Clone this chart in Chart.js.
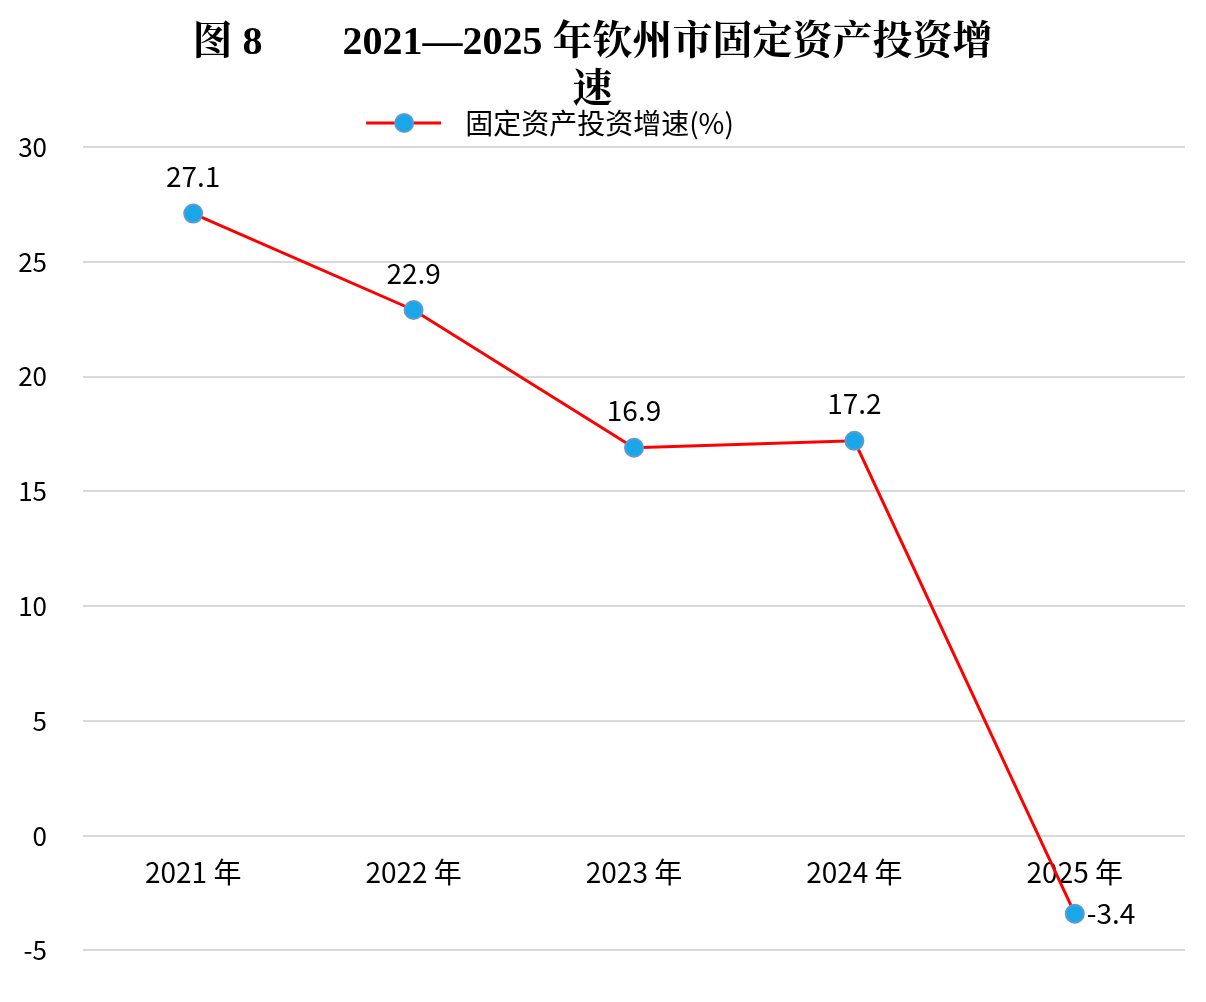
<!DOCTYPE html>
<html><head><meta charset="utf-8">
<script src="https://cdn.jsdelivr.net/npm/chart.js@4"></script>
<style>html,body{margin:0;padding:0;background:#fff}#w{width:1206px;height:1002px}</style>
</head><body><div id="w"><canvas id="c"></canvas></div>
<script>
const categories = ["2021 年","2022 年","2023 年","2024 年","2025 年"];
const growth = [27.1, 22.9, 16.9, 17.2, -3.4];
const yTicks = [30,25,20,15,10,5,0,-5];
const seriesName = "固定资产投资增速(%)";
const titleLines = ["图 8　　2021—2025 年钦州市固定资产投资增", "速"];

const labelPlugin = {
  id:'lbl',
  afterDatasetsDraw(chart){
    const ctx=chart.ctx, meta=chart.getDatasetMeta(0);
    ctx.save();
    ctx.font='28px "Noto Sans CJK SC"';
    ctx.fillStyle='#000';
    meta.data.forEach((p,i)=>{
      const v=growth[i].toFixed(1);
      if(growth[i]<0){ctx.textAlign='left';ctx.textBaseline='middle';ctx.fillText(v,p.x+12,p.y);}
      else{ctx.textAlign='center';ctx.textBaseline='middle';ctx.fillText(v,p.x,p.y-37);}
    });
    ctx.restore();
  }
};

new Chart(document.getElementById('c'),{
  type:'line',
  data:{labels:categories,datasets:[{label:seriesName,data:growth,borderColor:'#ff0000',borderWidth:3,
    pointBackgroundColor:'#1aa7e8',pointBorderColor:'#5b9bd5',pointBorderWidth:2,pointRadius:9,tension:0}]},
  options:{
    responsive:true,maintainAspectRatio:false,animation:false,
    layout:{padding:{left:0,right:21,top:20,bottom:14}},
    plugins:{
      title:{display:true,text:titleLines,color:'#000',font:{family:'"Liberation Serif","Noto Serif CJK SC","Noto Sans CJK SC"',size:40,weight:'bold'},lineHeight:1.5,padding:{top:0,bottom:-50}},
      legend:{labels:{color:'#000',font:{family:'"Noto Sans CJK SC"',size:28},usePointStyle:false,boxWidth:0,padding:43,
        generateLabels(chart){return [{text:seriesName,fillStyle:'#1aa7e8',strokeStyle:'#ff0000',lineWidth:0,hidden:false,datasetIndex:0}];}}},
      tooltip:{enabled:false}
    },
    scales:{
      x:{offset:true,position:{y:0},afterFit(s){s.height=0;},grid:{display:false},border:{display:false},
        ticks:{color:'#000',font:{family:'"Noto Sans CJK SC"',size:28},padding:12}},
      y:{min:-5,max:30,afterBuildTicks(s){s.ticks=yTicks.map(v=>({value:v}));},
        afterFit(s){s.width=83;},
        grid:{color:'#d9d9d9',lineWidth:2,drawTicks:false},border:{display:false},
        ticks:{color:'#000',font:{family:'"Noto Sans CJK SC"',size:26},padding:36}}
    }
  },
  plugins:[labelPlugin,{
    id:'legendMarker',
    afterDraw(chart){
      const lg=chart.legend; if(!lg||!lg.legendHitBoxes.length) return;
      const b=lg.legendHitBoxes[0], ctx=chart.ctx, y=b.top+b.height/2;
      ctx.save();
      ctx.strokeStyle='#ff0000';ctx.lineWidth=3;
      ctx.beginPath();ctx.moveTo(b.left-85,y);ctx.lineTo(b.left-10,y);ctx.stroke();
      ctx.fillStyle='#1aa7e8';ctx.strokeStyle='#5b9bd5';ctx.lineWidth=2;
      ctx.beginPath();ctx.arc(b.left-47,y,9,0,Math.PI*2);ctx.fill();ctx.stroke();
      ctx.restore();
    }
  }]
});
</script></body></html>
